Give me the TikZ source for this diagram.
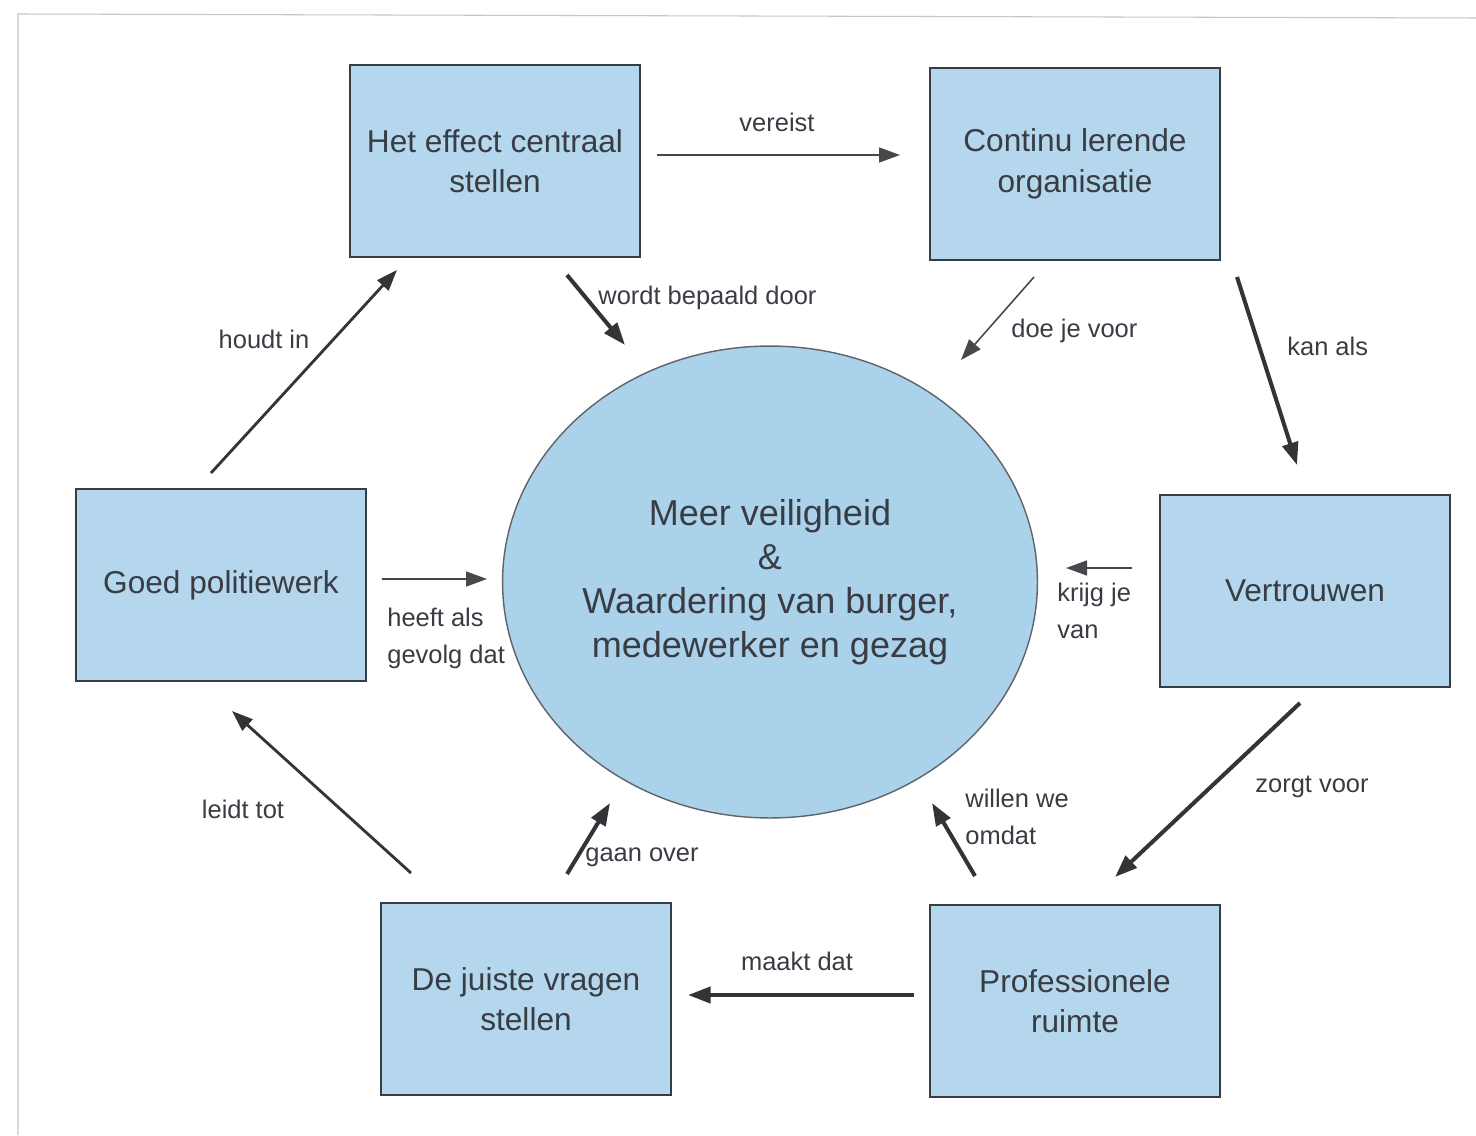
\documentclass[tikz,border=0pt]{standalone}
\usepackage{fontspec}
\setmainfont{Liberation Sans}
\usetikzlibrary{arrows.meta,shapes.geometric}

\definecolor{boxblue}{RGB}{180,215,237}
\definecolor{ringblue}{RGB}{170,210,235}
\definecolor{inkgray}{RGB}{58,60,68}
\definecolor{arrowgray}{RGB}{52,52,56}

\tikzset{
  stepbox/.style={draw=inkgray, line width=1.1pt, fill=boxblue, rectangle,
    minimum width=5.8cm, minimum height=3.84cm, align=center, text=inkgray,
    font=\fontsize{18}{23}\selectfont},
  rel/.style={text=inkgray, align=left, inner sep=0pt, font=\fontsize{14.5}{21}\selectfont},
  thinarrow/.style={draw=arrowgray!90, line width=0.9pt, -{Triangle[length=0.42cm,width=0.3cm]}},
  midarrow/.style={draw=arrowgray, line width=1.6pt, -{Triangle[length=0.42cm,width=0.3cm]}},
  thickarrow/.style={draw=arrowgray, line width=2.3pt, -{Triangle[length=0.45cm,width=0.32cm]}}
}

\begin{document}
\begin{tikzpicture}[x=0.02cm, y=-0.02cm]
        \useasboundingbox (0,0) rectangle (1476,1135);
        % rand van de scan
        \draw[gray!45, line width=0.6pt] (18,1135) -- (18,14) -- (1476,18);

        % centrum
        \node[draw=inkgray!80, line width=0.8pt, fill=ringblue, ellipse, inner sep=0pt,
              minimum width=10.7cm, minimum height=9.44cm,
              align=center, text=inkgray, font=\fontsize{20.5}{25}\selectfont] (centre) at (770,582)
              {Meer veiligheid\\\&\\Waardering van burger,\\medewerker en gezag};

        % blokken
        \node[stepbox] (effect) at (495,161) {Het effect centraal\\stellen};
        \node[stepbox] (lerend) at (1075,164) {Continu lerende\\organisatie};
        \node[stepbox] (vertrouwen) at (1305,591) {Vertrouwen};
        \node[stepbox] (ruimte) at (1075,1001) {Professionele\\ruimte};
        \node[stepbox] (vragen) at (526,999) {De juiste vragen\\stellen};
        \node[stepbox] (politie) at (221,585) {Goed politiewerk};

        % eindpunten van de pijlen
        \coordinate (vereist-a) at (657,155);   \coordinate (vereist-b) at (900,155);
        \coordinate (bepaald-a) at (567,275);   \coordinate (bepaald-b) at (625,345);
        \coordinate (doe-a) at (1034,277);      \coordinate (doe-b) at (961,360);
        \coordinate (kan-a) at (1237,277);      \coordinate (kan-b) at (1297,465);
        \coordinate (krijg-a) at (1132,568);    \coordinate (krijg-b) at (1066,568);
        \coordinate (zorgt-a) at (1300,703);    \coordinate (zorgt-b) at (1115,877);
        \coordinate (willen-a) at (975,876);    \coordinate (willen-b) at (932,803);
        \coordinate (maakt-a) at (914,995);     \coordinate (maakt-b) at (688,995);
        \coordinate (gaan-a) at (567,874);      \coordinate (gaan-b) at (610,803);
        \coordinate (leidt-a) at (411,873);     \coordinate (leidt-b) at (232,711);
        \coordinate (houdt-a) at (211,473);     \coordinate (houdt-b) at (397,270);
        \coordinate (gevolg-a) at (382,579);    \coordinate (gevolg-b) at (487,579);

        % pijlen
        \draw[thinarrow] (vereist-a) -- (vereist-b);
        \draw[thickarrow] (bepaald-a) -- (bepaald-b);
        \draw[thinarrow] (doe-a) -- (doe-b);
        \draw[thickarrow] (kan-a) -- (kan-b);
        \draw[thinarrow] (krijg-a) -- (krijg-b);
        \draw[thickarrow] (zorgt-a) -- (zorgt-b);
        \draw[thickarrow] (willen-a) -- (willen-b);
        \draw[thickarrow] (maakt-a) -- (maakt-b);
        \draw[thickarrow] (gaan-a) -- (gaan-b);
        \draw[midarrow] (leidt-a) -- (leidt-b);
        \draw[midarrow] (houdt-a) -- (houdt-b);
        \draw[thinarrow] (gevolg-a) -- (gevolg-b);

        % teksten bij de pijlen
        \node[rel] (t-vereist) at (777,122) {vereist};
        \node[rel, anchor=west] (t-bepaald) at (598,298) {wordt bepaald door};
        \node[rel, anchor=west] (t-doe) at (1011,331) {doe je voor};
        \node[rel, anchor=west] (t-kan) at (1287,346) {kan als};
        \node[rel, anchor=west] (t-krijg) at (1057,611) {krijg je\\van};
        \node[rel, anchor=west] (t-zorgt) at (1255,787) {zorgt voor};
        \node[rel, anchor=west] (t-willen) at (965,817) {willen we\\omdat};
        \node[rel] (t-maakt) at (797,961) {maakt dat};
        \node[rel, anchor=west] (t-gaan) at (585,857) {gaan over};
        \node[rel] (t-leidt) at (243,809) {leidt tot};
        \node[rel] (t-houdt) at (264,339) {houdt in};
        \node[rel, anchor=west] (t-gevolg) at (387,638) {heeft als\\gevolg dat};
    \end{tikzpicture}
\end{document}
